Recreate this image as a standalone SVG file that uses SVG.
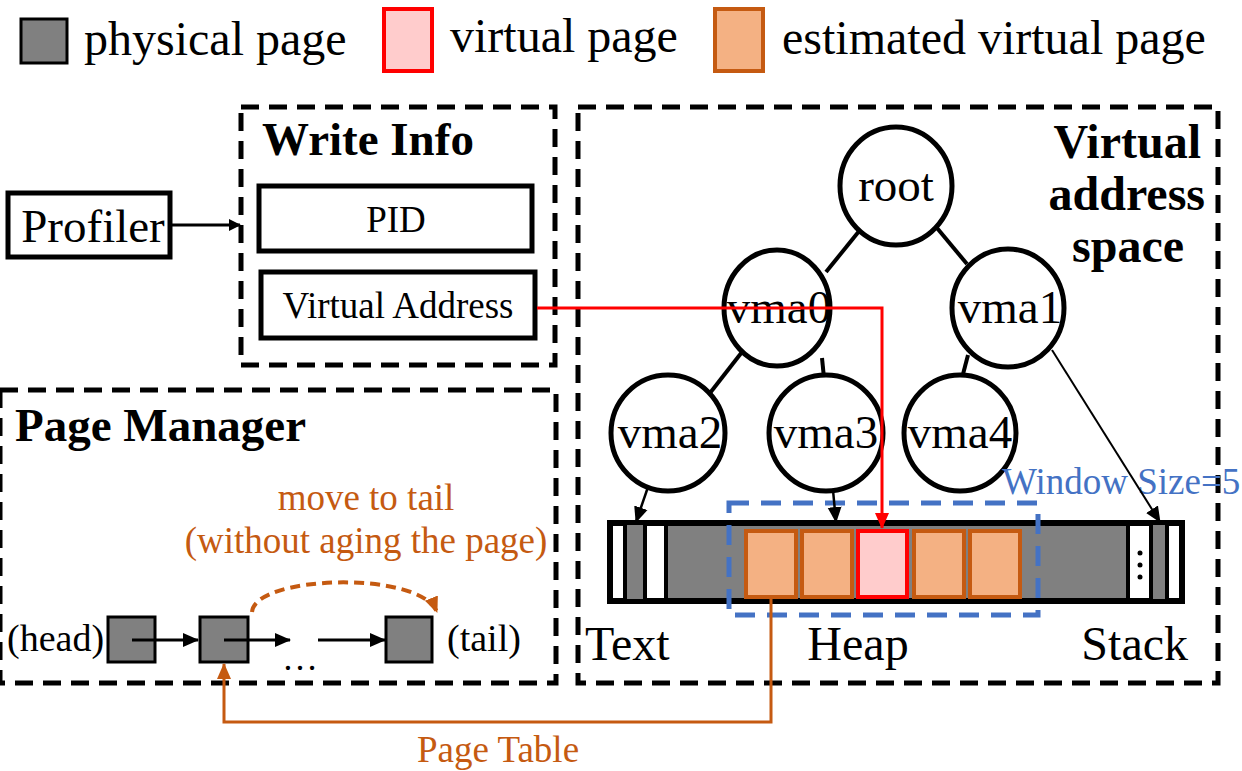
<svg xmlns="http://www.w3.org/2000/svg" width="1242" height="771" viewBox="0 0 1242 771">
<style>
text{font-family:"Liberation Serif","Times New Roman",serif;fill:#000}
.b{font-weight:bold}
.dash{fill:none;stroke:#000;stroke-width:5;stroke-dasharray:18 10}
.box{fill:#fff;stroke:#000;stroke-width:5}
.circ{fill:#fff;stroke:#000;stroke-width:5}
.edge{stroke:#000;stroke-width:4;fill:none}
.phys{fill:#808080;stroke:#000;stroke-width:3}
.est{fill:#F4B183;stroke:#C55A11;stroke-width:4}
.vir{fill:#FFCCCC;stroke:#FF0000;stroke-width:4}
.or{fill:#C55A11}
</style>
<defs>
<marker id="ab" markerWidth="12" markerHeight="12" refX="11" refY="6" orient="auto" markerUnits="userSpaceOnUse" viewBox="0 0 12 12"><path d="M0,0 L12,6 L0,12 z" fill="#000"/></marker>
<marker id="abk" markerWidth="16" markerHeight="16" refX="15" refY="8" orient="auto" markerUnits="userSpaceOnUse" viewBox="0 0 16 16"><path d="M0,1 L16,8 L0,15 z" fill="#000"/></marker>
<marker id="ar" markerWidth="16" markerHeight="16" refX="15" refY="8" orient="auto" markerUnits="userSpaceOnUse" viewBox="0 0 16 16"><path d="M0,1 L16,8 L0,15 z" fill="#FF0000"/></marker>
<marker id="ao" markerWidth="16" markerHeight="16" refX="15" refY="8" orient="auto" markerUnits="userSpaceOnUse" viewBox="0 0 16 16"><path d="M0,1 L16,8 L0,15 z" fill="#C55A11"/></marker>
</defs>

<g id="legend">
<rect x="21" y="19" width="46" height="44" class="phys"/>
<text x="84" y="55" font-size="48">physical page</text>
<rect x="384" y="9" width="48" height="62" class="vir"/>
<text x="450" y="52" font-size="48">virtual page</text>
<rect x="715" y="9" width="48" height="62" class="est"/>
<text x="782" y="54" font-size="48">estimated virtual page</text>
</g>

<g id="profiler">
<rect x="8" y="193" width="162" height="64" class="box" stroke-width="4"/>
<text x="93" y="242" font-size="47" text-anchor="middle">Profiler</text>
</g>

<g id="write-info">
<rect x="241" y="107" width="314" height="258" class="dash"/>
<text x="262" y="155" font-size="47" class="b">Write Info</text>
<rect x="259" y="186" width="273" height="65" class="box"/>
<text x="396" y="232" font-size="37" text-anchor="middle">PID</text>
<rect x="261" y="272" width="274" height="66" class="box"/>
<text x="398" y="318" font-size="37" text-anchor="middle">Virtual Address</text>
</g>

<g id="page-manager">
<rect x="0" y="390" width="556" height="293" class="dash"/>
<text x="15" y="441" font-size="47" class="b">Page Manager</text>
<text x="366" y="510" font-size="37" text-anchor="middle" class="or">move to tail</text>
<text x="366" y="553" font-size="37" text-anchor="middle" class="or">(without aging the page)</text>
<text x="7" y="651" font-size="38">(head)</text>
<rect x="108" y="617" width="47" height="45" class="phys"/>
<rect x="200" y="617" width="48" height="45" class="phys"/>
<rect x="386" y="617" width="46" height="45" class="phys"/>
<text x="300" y="670" font-size="36" text-anchor="middle">…</text>
<text x="447" y="651" font-size="38">(tail)</text>
</g>

<g id="virtual-address-space">
<rect x="578" y="107" width="640" height="576" class="dash"/>
<text x="1201" y="158" font-size="48" class="b" text-anchor="end">Virtual</text>
<text x="1205" y="210" font-size="48" class="b" text-anchor="end">address</text>
<text x="1128" y="262" font-size="48" class="b" text-anchor="middle">space</text>
</g>

<g id="tree-edges">
<line x1="860" y1="230" x2="826" y2="272" class="edge"/>
<line x1="937" y1="228" x2="967" y2="264" class="edge"/>
<line x1="742" y1="352" x2="710" y2="393" class="edge"/>
<line x1="822" y1="358" x2="824" y2="378" class="edge"/>
<line x1="968" y1="355" x2="962" y2="378" class="edge"/>
</g>

<g id="root"><ellipse cx="896" cy="186" rx="56" ry="59" class="circ"/><text x="896" y="201" font-size="47" text-anchor="middle">root</text></g>
<g id="vma0"><ellipse cx="777" cy="308" rx="53" ry="58" class="circ"/><text x="779" y="323" font-size="47" text-anchor="middle">vma0</text></g>
<g id="vma1"><ellipse cx="1008" cy="308" rx="56" ry="59" class="circ"/><text x="1010" y="323" font-size="47" text-anchor="middle">vma1</text></g>
<g id="vma2"><ellipse cx="668" cy="433" rx="57" ry="58" class="circ"/><text x="670" y="448" font-size="47" text-anchor="middle">vma2</text></g>
<g id="vma3"><ellipse cx="826" cy="433" rx="57" ry="58" class="circ"/><text x="826" y="448" font-size="47" text-anchor="middle">vma3</text></g>
<g id="vma4"><ellipse cx="960" cy="433" rx="56" ry="58" class="circ"/><text x="960" y="448" font-size="47" text-anchor="middle">vma4</text></g>

<g id="memory-bar">
<rect x="610" y="523" width="572" height="78" fill="#808080" stroke="#000" stroke-width="6"/>
<rect x="613" y="526" width="12" height="72" fill="#fff"/>
<rect x="625" y="523" width="20" height="78" fill="#808080" stroke="#000" stroke-width="4"/>
<rect x="647" y="526" width="18" height="72" fill="#fff"/>
<line x1="666" y1="523" x2="666" y2="601" stroke="#000" stroke-width="4"/>
<rect x="1129" y="526" width="22" height="72" fill="#fff"/>
<line x1="1128" y1="523" x2="1128" y2="601" stroke="#000" stroke-width="4"/>
<rect x="1151" y="523" width="16" height="78" fill="#808080" stroke="#000" stroke-width="4"/>
<rect x="1169" y="526" width="10" height="72" fill="#fff"/>
<circle cx="1140" cy="553" r="2.5" fill="#000"/>
<circle cx="1140" cy="565" r="2.5" fill="#000"/>
<circle cx="1140" cy="577" r="2.5" fill="#000"/>
<rect x="746" y="531" width="50" height="66" class="est"/>
<rect x="802" y="531" width="50" height="66" class="est"/>
<rect x="858" y="531" width="49" height="66" class="vir"/>
<rect x="914" y="531" width="50" height="66" class="est"/>
<rect x="970" y="531" width="50" height="66" class="est"/>
<rect x="729" y="503" width="309" height="112" fill="none" stroke="#4472C4" stroke-width="5" stroke-dasharray="20 12"/>
<text x="1002" y="494" font-size="37" style="fill:#4472C4">Window Size=5</text>
<text x="585" y="660" font-size="48">Text</text>
<text x="858" y="660" font-size="48" text-anchor="middle">Heap</text>
<text x="1188" y="660" font-size="48" text-anchor="end">Stack</text>
</g>

<g id="connectors">
<line x1="170" y1="225" x2="240" y2="225" stroke="#000" stroke-width="3" marker-end="url(#ab)"/>
<polyline points="537,308 882,308 882,528" fill="none" stroke="#FF0000" stroke-width="3" marker-end="url(#ar)"/>
<line x1="648" y1="487" x2="636" y2="522" stroke="#000" stroke-width="2.5" marker-end="url(#abk)"/>
<line x1="833" y1="490" x2="836" y2="522" stroke="#000" stroke-width="2.5" marker-end="url(#abk)"/>
<line x1="1052" y1="350" x2="1160" y2="522" stroke="#000" stroke-width="2" marker-end="url(#abk)"/>
<line x1="132" y1="640" x2="198" y2="640" stroke="#000" stroke-width="3" marker-end="url(#abk)"/>
<line x1="224" y1="640" x2="290" y2="640" stroke="#000" stroke-width="3" marker-end="url(#abk)"/>
<line x1="318" y1="640" x2="385" y2="640" stroke="#000" stroke-width="3" marker-end="url(#abk)"/>
<path d="M252,612 C255,575 420,570 437,612" fill="none" stroke="#C55A11" stroke-width="4" stroke-dasharray="10 6" marker-end="url(#ao)"/>
<polyline points="771,597 771,722 224,722 224,664" fill="none" stroke="#C55A11" stroke-width="3" marker-end="url(#ao)"/>
<text x="498" y="762" font-size="37" text-anchor="middle" class="or">Page Table</text>
</g>
</svg>
